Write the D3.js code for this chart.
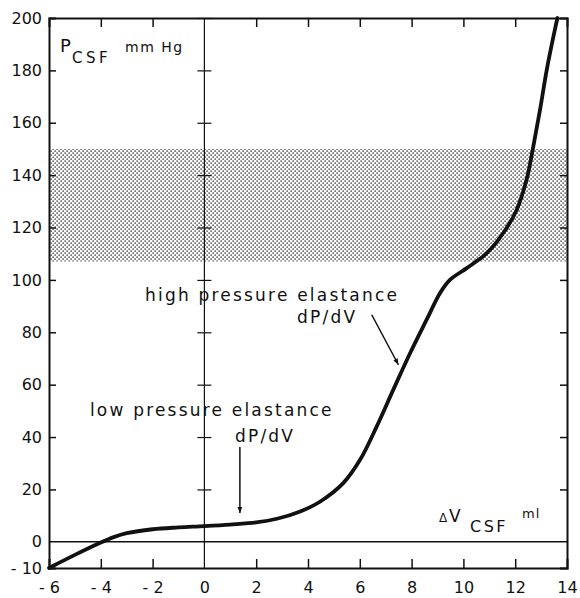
<!DOCTYPE html>
<html><head><meta charset="utf-8">
<script src="https://cdn.jsdelivr.net/npm/d3@7"></script>
<style>body{margin:0;background:#fff}svg{display:block}text{font-family:"DejaVu Sans",sans-serif;fill:#111}</style>
</head><body><svg id="c" width="580" height="598"></svg>
<script>
// Data
const volume = [-6, -5, -4, -3.5, -3, -2, -1, 0, 1, 2, 2.8, 3.7, 4.46, 5.36, 6.01, 6.65, 7.29, 7.94, 8.58, 9.1, 9.48, 10.13, 10.9, 11.54, 12.06, 12.44, 12.7, 12.96, 13.22, 13.52, 13.63];
const pressure = [-10, -5, -0.3, 1.8, 3.3, 4.8, 5.5, 6, 6.6, 7.4, 8.8, 11.6, 15.3, 22.4, 31.3, 44, 58, 72, 84.8, 95, 100, 104.5, 110.2, 117.9, 126.8, 138.3, 151, 165, 180.3, 195, 200];
const band = [107, 150];
const xTicks = [-6, -4, -2, 0, 2, 4, 6, 8, 10, 12, 14];
const yTicks = [-10, 0, 20, 40, 60, 80, 100, 120, 140, 160, 180, 200];
const xDomain = [-6, 14];
const yDomain = [-10, 200];
const labels = [
  {text: "high pressure elastance", x: -2.29, y: 92},
  {text: "dP/dV", x: 3.58, y: 83.7},
  {text: "low pressure elastance", x: -4.42, y: 48.1},
  {text: "dP/dV", x: 1.18, y: 38.3}
];
const arrows = [
  {x1: 6.46, y1: 86.7, x2: 7.49, y2: 67.6},
  {x1: 1.37, y1: 36.2, x2: 1.37, y2: 11}
];

const svg = d3.select("#c");
const m = {l: 49, r: 13, t: 18, b: 30};
const W = 580, H = 598;
const x = d3.scaleLinear().domain(xDomain).range([m.l, W - m.r]);
const y = d3.scaleLinear().domain(yDomain).range([H - m.b, m.t]);
const fmt = d => d < 0 ? "- " + Math.abs(d) : d;

// pattern
const defs = svg.append("defs");
const pat = defs.append("pattern").attr("id", "dots").attr("patternUnits", "userSpaceOnUse")
  .attr("width", 4).attr("height", 4);
pat.append("rect").attr("x", 0.4).attr("y", 0.4).attr("width", 1.4).attr("height", 1.4).attr("fill", "#333");
pat.append("rect").attr("x", 2.4).attr("y", 2.4).attr("width", 1.4).attr("height", 1.4).attr("fill", "#333");
const mk = defs.append("marker").attr("id", "ah").attr("viewBox", "0 0 10 10").attr("refX", 10).attr("refY", 5)
  .attr("markerWidth", 12).attr("markerHeight", 6).attr("orient", "auto").attr("markerUnits", "userSpaceOnUse");
mk.append("path").attr("d", "M0,1 L10,5 L0,9 Z").attr("fill", "#111");

// band
svg.append("rect").attr("x", x(xDomain[0])).attr("width", x(xDomain[1]) - x(xDomain[0]))
  .attr("y", y(band[1])).attr("height", y(band[0]) - y(band[1])).attr("fill", "url(#dots)");

// y = 0 line and x = 0 line
svg.append("line").attr("x1", x(xDomain[0])).attr("x2", x(xDomain[1])).attr("y1", y(0)).attr("y2", y(0))
  .attr("stroke", "#111").attr("stroke-width", 1.5);
svg.append("line").attr("x1", x(0)).attr("x2", x(0)).attr("y1", y(yDomain[0])).attr("y2", y(yDomain[1]))
  .attr("stroke", "#111").attr("stroke-width", 1.2);
svg.append("g").attr("transform", `translate(${x(0) - 7},0)`)
  .call(d3.axisRight(y).tickValues(yTicks.filter(v => v > 0)).tickSize(14).tickFormat(""))
  .call(g => g.select(".domain").remove())
  .call(g => g.selectAll("line").attr("stroke", "#111").attr("stroke-width", 1.2));

// frame axes
const axL = svg.append("g").attr("transform", `translate(${m.l},0)`)
  .call(d3.axisLeft(y).tickValues(yTicks).tickSize(-7).tickPadding(7).tickFormat(fmt));
const axR = svg.append("g").attr("transform", `translate(${W - m.r},0)`)
  .call(d3.axisRight(y).tickValues(yTicks.filter(v => v > 0 && v < 200)).tickSize(-7).tickFormat(""));
const axB = svg.append("g").attr("transform", `translate(0,${H - m.b})`)
  .call(d3.axisBottom(x).tickValues(xTicks).tickSize(-9).tickPadding(14).tickFormat(fmt));
const axT = svg.append("g").attr("transform", `translate(0,${m.t})`)
  .call(d3.axisTop(x).tickValues(xTicks.filter(v => v > -6 && v < 14 && v !== 0)).tickSize(-9).tickFormat(""));
[axL, axR, axB, axT].forEach(g => {
  g.select(".domain").attr("stroke", "#111").attr("stroke-width", 2);
  g.selectAll(".tick line").attr("stroke", "#111").attr("stroke-width", 1.5);
  g.selectAll("text").attr("font-size", 16).attr("font-family", "DejaVu Sans, sans-serif").attr("fill", "#111");
});
axB.selectAll(".tick line").filter(d => d === 0 || d === -6 || d === 14).remove();
axL.selectAll(".tick line").filter(d => d === -10 || d === 200 || d === 0).remove();

// curve
const pts = volume.map((v, i) => [v, pressure[i]]);
svg.append("path").datum(pts)
  .attr("d", d3.line().x(d => x(d[0])).y(d => y(d[1])).curve(d3.curveCatmullRom.alpha(0.5)))
  .attr("fill", "none").attr("stroke", "#111").attr("stroke-width", 3.8).attr("stroke-linecap", "round");

// axis titles
svg.append("text").attr("x", 60).attr("y", 52).attr("font-size", 18).text("P");
svg.append("text").attr("x", 72).attr("y", 63).attr("font-size", 15).attr("letter-spacing", 3.5).text("CSF");
svg.append("text").attr("x", 125).attr("y", 52).attr("font-size", 14).attr("letter-spacing", 1.5).text("mm Hg");

svg.append("text").attr("x", 439).attr("y", 522).attr("font-size", 12).text("\u0394");
svg.append("text").attr("x", 449).attr("y", 522).attr("font-size", 17).text("V");
svg.append("text").attr("x", 470).attr("y", 532).attr("font-size", 16).attr("letter-spacing", 2.5).text("CSF");
svg.append("text").attr("x", 522).attr("y", 518).attr("font-size", 13).attr("letter-spacing", 1).text("ml");

// annotations
svg.selectAll(".ann").data(labels).join("text").attr("class", "ann")
  .attr("x", d => x(d.x)).attr("y", d => y(d.y)).attr("font-size", 17).attr("letter-spacing", 2.2)
  .text(d => d.text);
svg.selectAll(".arr").data(arrows).join("line").attr("class", "arr")
  .attr("x1", d => x(d.x1)).attr("y1", d => y(d.y1)).attr("x2", d => x(d.x2)).attr("y2", d => y(d.y2))
  .attr("stroke", "#111").attr("stroke-width", 1.5).attr("marker-end", "url(#ah)");
</script></body></html>
